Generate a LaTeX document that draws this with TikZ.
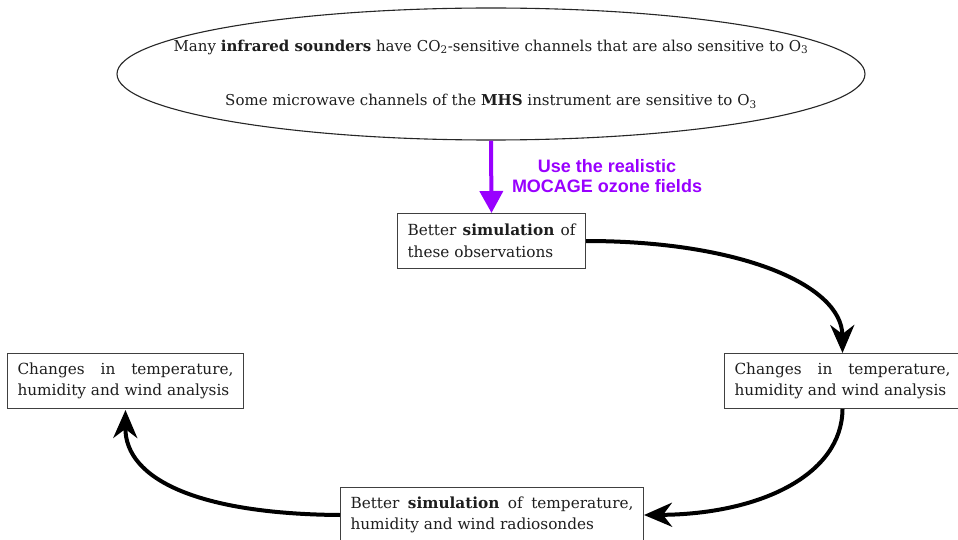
\documentclass[tikz,border=0pt]{standalone}
\usepackage{fontspec}
\setmainfont{DejaVu Serif}
\setsansfont{Liberation Sans}
\usetikzlibrary{shapes.geometric,arrows.meta}
\definecolor{vio}{RGB}{153,0,255}
\definecolor{txt}{RGB}{30,30,30}
\hyphenpenalty=10000
\exhyphenpenalty=10000
\begin{document}
\begin{tikzpicture}[x=1pt,y=-1pt,
  serif/.style={font=\fontsize{15}{21}\selectfont, text=txt},
  box/.style={font=\fontsize{15.3}{21.5}\selectfont, text=txt, align=justify, draw=black!75, line width=1pt, fill=white, inner xsep=10pt, inner ysep=4pt, minimum height=55pt, anchor=north west},
  flow/.style={line width=4pt, -{Stealth[length=28pt,width=24pt,inset=9pt]}}]
\clip (0,0) rectangle (958,540);
\fill[white] (0,0) rectangle (958,540);
% ellipse
\node[ellipse, draw=black!85, line width=1.1pt, minimum width=748pt, minimum height=132pt, inner sep=0pt] (E) at (491,74) {};
\node[serif] (t1) at (491,47) {Many \textbf{infrared sounders} have CO\textsubscript{2}-sensitive channels that are also sensitive to O\textsubscript{3}};
\node[serif] (t2) at (491,101) {Some microwave channels of the \textbf{MHS} instrument are sensitive to O\textsubscript{3}};
% boxes
\node[box, text width=168pt] (B1) at (397,213) {Better \textbf{simulation} of these observations};
\node[box, text width=216pt] (R) at (724,353) {Changes in temperature, humidity and wind analysis};
\node[box, text width=216pt] (L) at (7,353) {Changes in temperature, humidity and wind analysis};
\node[box, text width=283pt] (B4) at (340,487) {Better \textbf{simulation} of temperature, humidity and wind radiosondes};
% purple arrow and label
\draw[vio, line width=4pt, -{Triangle[length=22pt,width=23pt]}] (E.south) -- (B1.north);
\node[font=\sffamily\bfseries\fontsize{18}{19.5}\selectfont, text=vio, align=center] (lab) at (607,176) {Use the realistic\\MOCAGE ozone fields};
% black arrows
\draw[flow] (B1.east) .. controls (740,241) and (842,285) .. (R.north);
\draw[flow] (R.south) .. controls (842,475) and (760,514) .. (B4.east);
\draw[flow, shorten >=1pt] (B4.west) .. controls (200,514) and (125,480) .. (L.south);
\end{tikzpicture}
\end{document}
